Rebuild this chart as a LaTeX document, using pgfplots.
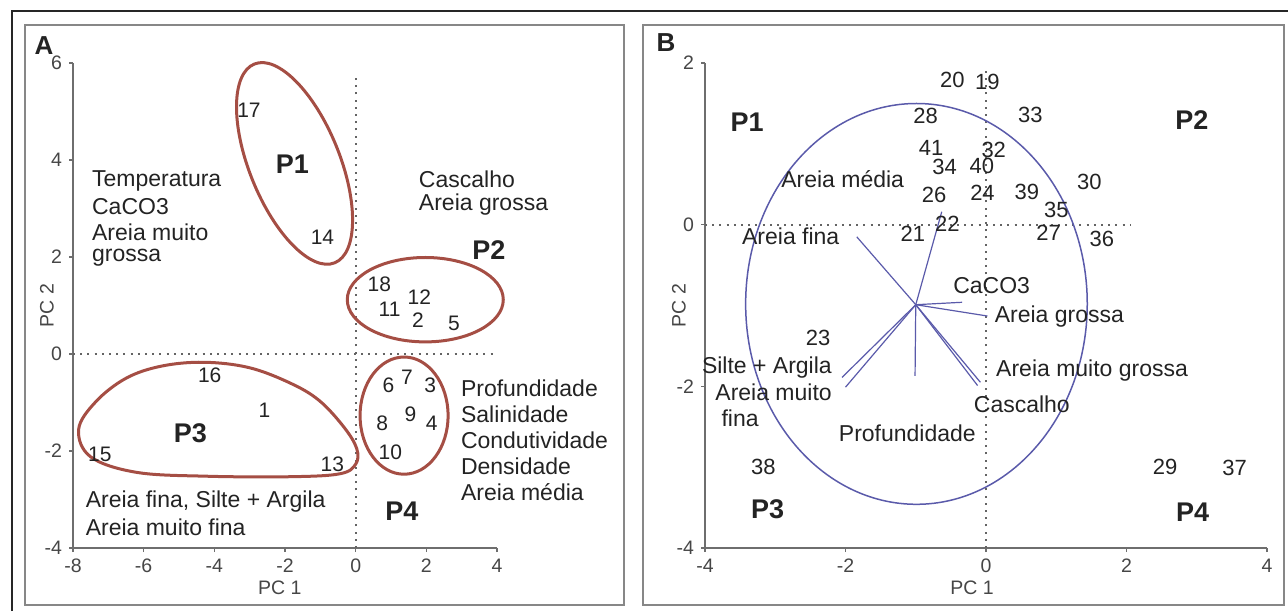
\documentclass[border=0pt]{standalone}
\usepackage{fontspec}
\setmainfont{Liberation Sans}
\usepackage{pgfplots}
\pgfplotsset{compat=1.18}

\definecolor{ellred}{RGB}{165,78,68}
\definecolor{vecblue}{RGB}{90,90,170}
\definecolor{axgray}{RGB}{110,110,110}
\definecolor{tickgray}{RGB}{70,70,70}
\definecolor{txt}{RGB}{35,35,35}
\definecolor{framegray}{RGB}{135,135,135}
\definecolor{dotgray}{RGB}{100,100,100}

\newcommand{\annf}{\fontsize{11.5}{13}\selectfont}
\newcommand{\numf}{\fontsize{11}{13}\selectfont}
\newcommand{\pbold}{\fontsize{13.5}{15}\selectfont\bfseries}

\tikzset{
  zeroline/.style={draw=dotgray, line width=0.9pt, dash pattern=on 1pt off 2.6pt},
  ell/.style={draw=ellred, line width=1.5pt},
  vec/.style={draw=vecblue, line width=0.6pt},
}
\pgfplotsset{
  pca/.style={
    scale only axis, clip=false,
    axis x line*=bottom, axis y line*=left,
    tick align=outside, major tick length=2pt,
    axis line style={draw=axgray, line width=0.8pt},
    tick style={draw=axgray, line width=0.6pt},
    ticklabel style={font=\fontsize{9.75}{11}\selectfont, text=tickgray},
    /pgf/number format/assume math mode=true,
    xlabel={PC 1}, ylabel={PC 2},
    every axis y label/.style={at={(axis description cs:0,0.5)}, xshift=-13pt, rotate=90, anchor=center, font=\fontsize{9.75}{11}\selectfont, text=tickgray},
    label style={font=\fontsize{9.75}{11}\selectfont, text=tickgray},
  },
  labs/.style={draw=none, nodes near coords, point meta=explicit symbolic,
    every node near coord/.append style={anchor=center, font=#1, text=txt}},
}

\begin{document}
\begin{tikzpicture}
\useasboundingbox (0,0) rectangle (644pt,-305.5pt);
% outer and panel frames
\draw[black!85, line width=0.8pt] (6pt,-305.5pt) -- (6pt,-5.5pt) -- (644pt,-5.5pt);
\draw[framegray, line width=1pt] (12.5pt,-12.5pt) rectangle (312pt,-302.5pt);
\draw[framegray, line width=1pt] (321.5pt,-12.5pt) rectangle (642pt,-302.5pt);
\node[font=\fontsize{13}{15}\selectfont\bfseries, text=txt] at (22pt,-23pt) {A};
\node[font=\fontsize{13}{15}\selectfont\bfseries, text=txt] at (333pt,-21.5pt) {B};

% ---------- panel A ----------
\begin{axis}[pca,
  at={(36.5pt,-274pt)}, anchor=south west,
  width=212pt, height=242.5pt,
  xmin=-8, xmax=4, ymin=-4, ymax=6,
  xtick={-8,-6,...,4}, ytick={-4,-2,...,6},
  every axis x label/.style={at={(axis description cs:0.488,0)}, yshift=-20pt, anchor=center, font=\fontsize{9.75}{11}\selectfont, text=tickgray},
]
\addplot[zeroline] coordinates {(-8,0) (4,0)};
\addplot[zeroline] coordinates {(0,-4) (0,5.75)};

\draw[ell] (axis cs:-1.73,3.93) ellipse [x radius=22.6pt, y radius=53.6pt, rotate=22];
\draw[ell] (axis cs:1.97,1.12) ellipse [x radius=39pt, y radius=21.1pt];
\draw[ell] (axis cs:1.37,-1.27) ellipse [x radius=22pt, y radius=29.3pt];
\draw[ell] plot[smooth cycle, tension=0.6] coordinates {
  (axis cs:0.03,-1.95) (axis cs:-0.33,-1.51) (axis cs:-1.03,-0.96) (axis cs:-1.85,-0.6)
  (axis cs:-3.02,-0.28) (axis cs:-4.3,-0.17) (axis cs:-5.5,-0.25) (axis cs:-6.5,-0.5)
  (axis cs:-7.35,-0.98) (axis cs:-7.84,-1.55) (axis cs:-7.5,-2.12) (axis cs:-6.2,-2.44)
  (axis cs:-4.2,-2.52) (axis cs:-1.85,-2.53) (axis cs:-0.45,-2.47) (axis cs:0.0,-2.27)};

\addplot[labs=\fontsize{10.5}{12}\selectfont] table[meta=lab] {
x y lab
-3.02 5.02 17
-0.94 2.41 14
0.67 1.43 18
1.80 1.18 12
0.96 0.92 11
1.76 0.69 2
2.78 0.64 5
-4.13 -0.44 16
-2.58 -1.17 1
-7.24 -2.06 15
-0.66 -2.27 13
0.93 -0.64 6
1.45 -0.48 7
2.11 -0.64 3
0.75 -1.42 8
1.55 -1.24 9
2.15 -1.42 4
0.98 -2.03 10
};

\node[font=\pbold, text=txt] at (axis cs:-1.79,3.92) {P1};
\node[font=\pbold, text=txt] at (axis cs:3.77,2.14) {P2};
\node[font=\pbold, text=txt] at (axis cs:-4.68,-1.63) {P3};
\node[font=\pbold, text=txt] at (axis cs:1.31,-3.24) {P4};

\begin{scope}[every node/.style={anchor=west, font=\annf, text=txt, inner sep=0pt}]
\node at (axis cs:-7.47,3.57) {Temperatura};
\node at (axis cs:-7.47,3.04) {CaCO3};
\node at (axis cs:-7.47,2.51) {Areia muito};
\node at (axis cs:-7.47,1.99) {grossa};
\node at (axis cs:1.78,3.61) {Cascalho};
\node at (axis cs:1.78,3.08) {Areia grossa};
\node at (axis cs:2.97,-0.70) {Profundidade};
\node at (axis cs:2.97,-1.24) {Salinidade};
\node at (axis cs:2.97,-1.78) {Condutividade};
\node at (axis cs:2.97,-2.31) {Densidade};
\node at (axis cs:2.97,-2.84) {Areia média};
\node at (axis cs:-7.65,-3.05) {Areia fina, Silte + Argila};
\node at (axis cs:-7.65,-3.57) {Areia muito fina};
\end{scope}
\end{axis}

% ---------- panel B ----------
\begin{axis}[pca,
  at={(352.5pt,-274pt)}, anchor=south west,
  width=281pt, height=242.5pt,
  xmin=-4, xmax=4, ymin=-4, ymax=2,
  xtick={-4,-2,...,4}, ytick={-4,-2,...,2},
  every axis x label/.style={at={(axis description cs:0.475,0)}, yshift=-20pt, anchor=center, font=\fontsize{9.75}{11}\selectfont, text=tickgray},
]
\addplot[zeroline] coordinates {(-4,0) (2.05,0)};
\addplot[zeroline] coordinates {(0,-4) (0,1.9)};

\draw[draw=vecblue, line width=0.75pt] (axis cs:-0.99,-0.98) ellipse [x radius=85.4pt, y radius=100.2pt];

% loading vectors
\addplot[vec] coordinates {(-1.0,-0.99) (-1.84,-0.15)};
\addplot[vec] coordinates {(-1.0,-0.99) (-0.63,0.16)};
\addplot[vec] coordinates {(-1.0,-0.99) (-0.34,-0.96)};
\addplot[vec] coordinates {(-1.0,-0.99) (0.02,-1.13)};
\addplot[vec] coordinates {(-1.0,-0.99) (-0.08,-1.95)};
\addplot[vec] coordinates {(-1.0,-0.99) (-0.12,-1.99)};
\addplot[vec] coordinates {(-1.0,-0.99) (-1.01,-1.87)};
\addplot[vec] coordinates {(-1.0,-0.99) (-2.05,-1.89)};
\addplot[vec] coordinates {(-1.0,-0.99) (-2.0,-2.01)};

\addplot[labs=\numf] table[meta=lab] {
x y lab
-0.48 1.79 20
0.02 1.76 19
0.63 1.36 33
-0.86 1.34 28
-0.78 0.95 41
0.11 0.92 32
-0.59 0.72 34
-0.06 0.73 40
-0.74 0.37 26
-0.05 0.40 24
0.58 0.41 39
1.47 0.53 30
1.00 0.18 35
-0.55 0.01 22
-1.04 -0.11 21
0.89 -0.10 27
1.65 -0.18 36
-2.39 -1.40 23
-3.17 -3.00 38
2.55 -3.00 29
3.54 -3.01 37
};

\node[font=\pbold, text=txt] at (axis cs:-3.40,1.27) {P1};
\node[font=\pbold, text=txt] at (axis cs:2.93,1.29) {P2};
\node[font=\pbold, text=txt] at (axis cs:-3.11,-3.52) {P3};
\node[font=\pbold, text=txt] at (axis cs:2.94,-3.56) {P4};

\begin{scope}[every node/.style={font=\annf, text=txt, inner sep=0pt}]
\node at (axis cs:-2.04,0.56) {Areia média};
\node at (axis cs:-2.78,-0.14) {Areia fina};
\node at (axis cs:0.08,-0.75) {CaCO3};
\node[anchor=west] at (axis cs:0.12,-1.14) {Areia grossa};
\node[anchor=east] at (axis cs:-2.19,-1.77) {Silte + Argila};
\node[anchor=west] at (axis cs:0.14,-1.81) {Areia muito grossa};
\node[anchor=east] at (axis cs:-2.19,-2.07) {Areia muito};
\node at (axis cs:-3.50,-2.39) {fina};
\node at (axis cs:0.51,-2.22) {Cascalho};
\node at (axis cs:-1.12,-2.58) {Profundidade};
\end{scope}
\end{axis}
\end{tikzpicture}
\end{document}
